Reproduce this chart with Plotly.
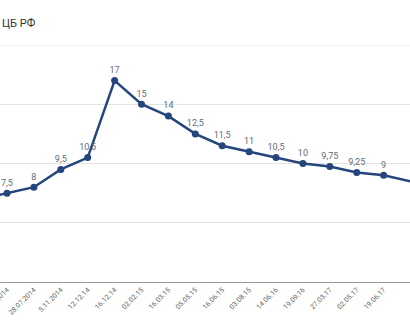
import plotly.graph_objects as go

# Ключевая ставка ЦБ РФ по датам решений
dates = ["03.03.2014", "28.04.2014", "28.07.2014", "5.11.2014", "12.12.14", "16.12.14",
         "02.02.15", "16.03.15", "05.05.15", "16.06.15", "03.08.15", "14.06.16",
         "19.09.16", "27.03.17", "02.05.17", "19.06.17", "18.09.17"]
rates = [7, 7.5, 8, 9.5, 10.5, 17, 15, 14, 12.5, 11.5, 11, 10.5, 10, 9.75, 9.25, 9, 8.5]
rate_labels = [f"{v:g}".replace(".", ",") for v in rates]

LINE = "#24467c"
Y_MAX = 20

fig = go.Figure(go.Scatter(
    x=dates, y=rates,
    mode="lines+markers+text",
    line=dict(color=LINE, width=2.5),
    marker=dict(color=LINE, size=7),
    text=rate_labels,
    textposition="top center",
    textfont=dict(family="Roboto", size=9, color="#5f6b78"),
    cliponaxis=False,
    hoverinfo="skip",
))

# top gridline sits on the edge of the plot area
fig.add_shape(type="line", xref="paper", yref="y", x0=0, x1=1, y0=Y_MAX, y1=Y_MAX,
              line=dict(color="#e3e3e3", width=1), layer="below")

fig.add_annotation(
    text="ЦБ РФ", xref="paper", yref="paper", x=0, y=1,
    xanchor="left", yanchor="middle", yshift=22, xshift=0, showarrow=False,
    font=dict(family="Roboto", size=11, color="#333333"),
)

fig.update_layout(
    width=410, height=328,
    margin=dict(l=0, r=0, t=45, b=46),
    paper_bgcolor="white", plot_bgcolor="white",
    showlegend=False,
    xaxis=dict(
        type="category", range=[0.74, 15.98], automargin=False,
        showgrid=False, showline=True, linecolor="#9a9a9a", linewidth=1,
        ticks="", tickangle=-45,
        tickfont=dict(family="Roboto", size=7, color="#666666"),
    ),
    yaxis=dict(
        range=[0, Y_MAX], dtick=5, showticklabels=False, automargin=False,
        gridcolor="#e3e3e3", gridwidth=1, zeroline=False,
    ),
)

fig.write_html("out.html")
